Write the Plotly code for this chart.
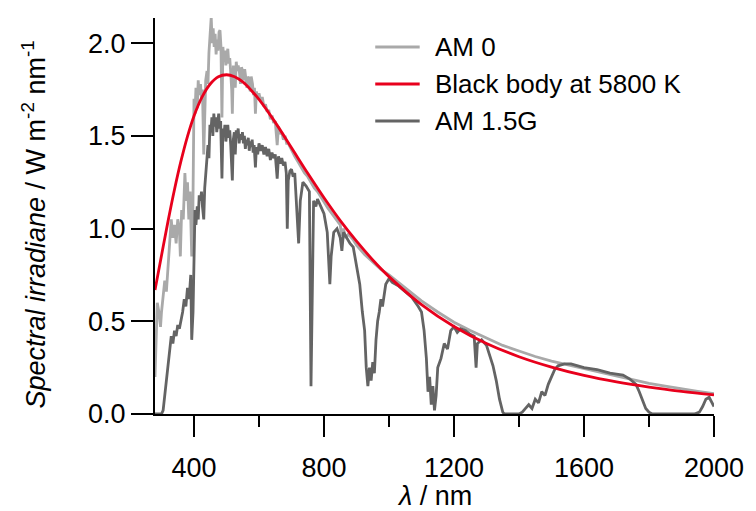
import plotly.graph_objects as go

# ---- spectral data (wavelength in nm, irradiance in W m^-2 nm^-1) ----
am0_nm = [280, 283, 287, 292, 297, 300, 305, 310, 315, 320, 325, 330, 335, 340, 345,
          350, 355, 358, 362, 367, 372, 376, 380, 384, 388, 393, 396, 400, 403, 406,
          410, 413, 416, 420, 423, 426, 430, 433, 436, 440, 443, 446, 450, 453, 456,
          459, 462, 465, 468, 471, 474, 477, 480, 483, 486, 489, 492, 495, 498, 501,
          504, 507, 510, 513, 516, 518, 521, 524, 527, 530, 533, 536, 540, 543, 546,
          550, 553, 556, 560, 563, 566, 570, 573, 576, 580, 583, 586, 589, 592, 596,
          600, 605, 610, 615, 620, 625, 630, 635, 640, 645, 650, 656, 660, 665, 670,
          675, 680, 685, 690, 700, 710, 720, 730, 740, 750, 760, 770, 780, 790, 800,
          812, 825, 838, 850, 854, 860, 866, 875, 890, 900, 925, 950, 975, 1000, 1050,
          1100, 1150, 1200, 1250, 1300, 1350, 1400, 1450, 1500, 1550, 1600, 1650, 1700,
          1750, 1800, 1850, 1900, 1950, 2000]
am0_val = [0.20, 0.45, 0.60, 0.55, 0.47, 0.55, 0.62, 0.72, 0.66, 0.80, 0.95, 1.05, 0.95, 1.02, 0.92,
           1.05, 1.00, 0.85, 1.10, 1.05, 1.30, 1.15, 1.25, 1.05, 1.20, 0.85, 1.00, 1.70, 1.62, 1.76,
           1.65, 1.80, 1.72, 1.78, 1.70, 1.75, 1.40, 1.68, 1.80, 1.85, 1.78, 1.95, 2.10, 2.14, 2.00,
           2.08, 1.98, 2.05, 1.94, 2.02, 1.96, 2.06, 2.07, 1.98, 1.60, 1.98, 1.90, 1.96, 1.88, 1.93,
           1.97, 1.89, 1.92, 1.84, 1.75, 1.62, 1.88, 1.82, 1.76, 1.90, 1.85, 1.88, 1.84, 1.78, 1.87,
           1.85, 1.80, 1.86, 1.80, 1.76, 1.82, 1.80, 1.74, 1.82, 1.78, 1.72, 1.76, 1.62, 1.74, 1.70,
           1.73, 1.69, 1.71, 1.66, 1.67, 1.63, 1.64, 1.59, 1.61, 1.57, 1.58, 1.45, 1.55, 1.51, 1.52,
           1.48, 1.50, 1.46, 1.46, 1.42, 1.39, 1.36, 1.33, 1.30, 1.28, 1.25, 1.22, 1.20, 1.17, 1.14,
           1.11, 1.08, 1.05, 1.02, 0.96, 1.00, 0.95, 0.97, 0.94, 0.91, 0.86, 0.82, 0.78, 0.75, 0.68,
           0.61, 0.55, 0.495, 0.45, 0.41, 0.37, 0.34, 0.31, 0.285, 0.265, 0.245, 0.225, 0.205,
           0.185, 0.165, 0.15, 0.135, 0.122, 0.11]

bb_nm = [280, 300, 320, 340, 360, 380, 400, 425, 450, 475, 500, 525, 550, 575, 600,
         650, 700, 750, 800, 850, 900, 950, 1000, 1100, 1200, 1300, 1400, 1500, 1600,
         1700, 1800, 1900, 2000]
bb_val = [0.669, 0.855, 1.039, 1.211, 1.365, 1.498, 1.608, 1.711, 1.780, 1.819, 1.830, 1.819,
          1.791, 1.748, 1.697, 1.573, 1.436, 1.298, 1.166, 1.043, 0.932, 0.831, 0.741, 0.590,
          0.472, 0.380, 0.309, 0.253, 0.208, 0.173, 0.145, 0.122, 0.103]

am15_nm = [280, 300, 305, 310, 315, 320, 325, 330, 335, 340, 345, 350, 355, 360, 365,
           370, 375, 380, 385, 390, 393, 397, 400, 403, 406, 410, 413, 416, 420, 423,
           426, 430, 433, 436, 440, 443, 446, 449, 452, 455, 458, 461, 464, 467, 470,
           473, 476, 479, 482, 486, 489, 492, 495, 498, 501, 504, 507, 510, 513, 516,
           518, 521, 524, 527, 530, 533, 536, 539, 542, 546, 549, 552, 555, 558, 561,
           564, 567, 570, 573, 576, 579, 582, 585, 589, 592, 596, 600, 605, 610, 615,
           620, 625, 630, 635, 640, 645, 650, 656, 660, 665, 670, 675, 680, 684, 687,
           690, 695, 700, 705, 710, 718, 722, 727, 735, 745, 755, 760, 763, 768, 775,
           780, 790, 800, 805, 810, 818, 822, 830, 840, 850, 855, 860, 870, 880, 890,
           900, 910, 918, 925, 930, 935, 940, 945, 950, 955, 960, 965, 970, 975, 980,
           990, 1000, 1010, 1030, 1050, 1070, 1090, 1100, 1108, 1115, 1120, 1125, 1130, 1135,
           1140, 1145, 1150, 1160, 1170, 1180, 1190, 1200, 1210, 1220, 1235, 1250, 1262, 1268,
           1272, 1285, 1300, 1310, 1320, 1330, 1340, 1350, 1355, 1400, 1410, 1420, 1430, 1440,
           1450, 1460, 1470, 1480, 1490, 1500, 1510, 1520, 1540, 1560, 1580, 1600, 1620, 1640,
           1660, 1680, 1700, 1720, 1740, 1760, 1770, 1780, 1790, 1800, 1810, 1940, 1955, 1965,
           1975, 1985, 1992, 2000]
am15_val = [0.0, 0.0, 0.02, 0.10, 0.20, 0.28, 0.35, 0.42, 0.38, 0.45, 0.42, 0.48, 0.46, 0.50, 0.55,
            0.62, 0.58, 0.68, 0.62, 0.75, 0.40, 0.55, 0.95, 1.10, 1.02, 1.12, 1.05, 1.18, 1.15, 1.20,
            1.12, 1.05, 1.22, 1.28, 1.35, 1.45, 1.38, 1.56, 1.52, 1.60, 1.50, 1.62, 1.55, 1.60, 1.52,
            1.58, 1.62, 1.54, 1.58, 1.27, 1.54, 1.50, 1.56, 1.47, 1.53, 1.56, 1.49, 1.53, 1.45, 1.30,
            1.26, 1.48, 1.52, 1.40, 1.53, 1.50, 1.54, 1.46, 1.51, 1.48, 1.52, 1.46, 1.50, 1.43, 1.48,
            1.45, 1.49, 1.42, 1.47, 1.44, 1.48, 1.41, 1.45, 1.33, 1.44, 1.40, 1.46, 1.42, 1.45, 1.40,
            1.44, 1.39, 1.43, 1.37, 1.41, 1.38, 1.40, 1.27, 1.39, 1.35, 1.38, 1.34, 1.36, 1.30, 1.00,
            1.26, 1.31, 1.32, 1.28, 1.30, 1.00, 0.92, 1.15, 1.25, 1.23, 1.20, 0.15, 0.45, 1.15, 1.12,
            1.16, 1.12, 1.08, 1.03, 0.98, 0.70, 0.85, 0.98, 1.00, 0.95, 0.88, 0.98, 0.95, 0.92, 0.90,
            0.80, 0.70, 0.55, 0.45, 0.25, 0.15, 0.25, 0.18, 0.28, 0.22, 0.40, 0.50, 0.55, 0.62, 0.58,
            0.70, 0.73, 0.71, 0.69, 0.66, 0.63, 0.58, 0.55, 0.45, 0.30, 0.12, 0.20, 0.05, 0.15,
            0.02, 0.10, 0.25, 0.30, 0.38, 0.35, 0.45, 0.47, 0.44, 0.46, 0.45, 0.43, 0.42, 0.25,
            0.38, 0.40, 0.37, 0.32, 0.26, 0.18, 0.08, 0.01, 0.0, 0.0, 0.01, 0.03, 0.05, 0.03,
            0.08, 0.06, 0.12, 0.10, 0.16, 0.20, 0.24, 0.26, 0.27, 0.27, 0.26, 0.25, 0.245, 0.24,
            0.23, 0.22, 0.215, 0.21, 0.19, 0.16, 0.12, 0.07, 0.03, 0.01, 0.0, 0.0, 0.01, 0.04,
            0.08, 0.09, 0.07, 0.04]

x_ticks = [400, 800, 1200, 1600, 2000]
x_minor = [600, 1000, 1400, 1800]
y_ticks = [0.0, 0.5, 1.0, 1.5, 2.0]

legend_names = ["AM 0", "Black body at 5800 K", "AM 1.5G"]
C_AM0 = "#a9a9a9"
C_BB = "#e8001c"
C_AM15 = "#646464"
legend_colors = [C_AM0, C_BB, C_AM15]

FONT = "Liberation Sans, Arial, Helvetica, sans-serif"
W, H = 756, 511
ML, MR, MT, MB = 155, 35, 18, 97

def paper_x(px):
    return (px - ML) / (W - ML - MR)

def paper_y(py):
    return (H - MB - py) / (H - MT - MB)

fig = go.Figure()
fig.add_trace(go.Scatter(x=am0_nm, y=am0_val, mode="lines", name=legend_names[0],
                         line=dict(color=C_AM0, width=2.8)))
fig.add_trace(go.Scatter(x=am15_nm, y=am15_val, mode="lines", name=legend_names[2],
                         line=dict(color=C_AM15, width=2.8)))
fig.add_trace(go.Scatter(x=bb_nm, y=bb_val, mode="lines", name=legend_names[1],
                         line=dict(color=C_BB, width=2.8, shape="spline")))

# hand-drawn legend block
shapes = []
annotations = []
for i, (name, col) in enumerate(zip(legend_names, legend_colors)):
    py = 47 + 37 * i
    shapes.append(dict(type="line", xref="paper", yref="paper",
                       x0=paper_x(378), x1=paper_x(423), y0=paper_y(py), y1=paper_y(py),
                       line=dict(color=col, width=2.8)))
    annotations.append(dict(xref="paper", yref="paper", x=paper_x(436), y=paper_y(py),
                            xanchor="left", yanchor="middle", showarrow=False,
                            text=name, font=dict(size=26, color="black", family=FONT)))

# axis titles
annotations.append(dict(xref="paper", yref="paper", x=paper_x(32), y=paper_y(225),
                        xanchor="center", yanchor="middle", showarrow=False, textangle=-90,
                        text="<i>Spectral irradiane</i> / W m<sup>-2</sup> nm<sup>-1</sup>",
                        font=dict(size=27, color="black", family=FONT)))
annotations.append(dict(xref="paper", yref="paper", x=paper_x(438), y=paper_y(496),
                        xanchor="center", yanchor="middle", showarrow=False,
                        text="<i>λ</i> / nm",
                        font=dict(size=27, color="black", family=FONT)))

fig.update_layout(
    width=W, height=H,
    margin=dict(l=ML, r=MR, t=MT, b=MB, pad=0),
    paper_bgcolor="white", plot_bgcolor="white",
    showlegend=False,
    shapes=shapes, annotations=annotations,
    font=dict(family=FONT, size=27, color="black"),
    xaxis=dict(range=[280, 2000], tickvals=x_ticks, ticktext=[str(v) for v in x_ticks],
               ticks="outside", ticklen=21, tickwidth=2, tickcolor="black",
               showline=True, linecolor="black", linewidth=2, showgrid=False, zeroline=False,
               minor=dict(tickvals=x_minor, ticks="outside", ticklen=11,
                          tickwidth=2, tickcolor="black", showgrid=False),
               ticklabelstandoff=8, tickfont=dict(size=27), layer="below traces"),
    yaxis=dict(range=[0, 2.136], tickvals=y_ticks, ticktext=[f"{v:.1f}" for v in y_ticks],
               ticks="outside", ticklen=22, tickwidth=2, tickcolor="black",
               showline=True, linecolor="black", linewidth=2, showgrid=False, zeroline=False,
               tickfont=dict(size=27), layer="below traces"),
)

fig.write_html("out.html")
